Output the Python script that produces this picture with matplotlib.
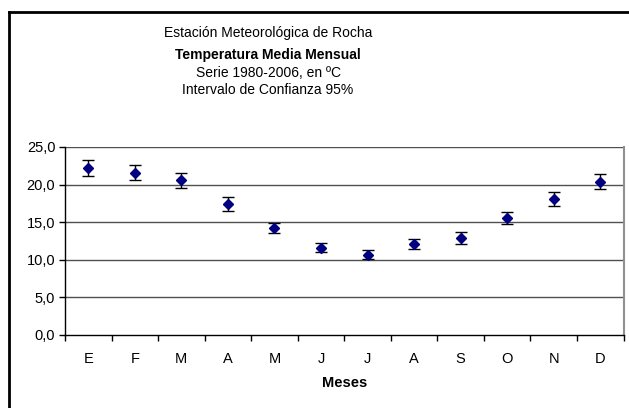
import matplotlib
matplotlib.use("Agg")
import matplotlib.pyplot as plt
from matplotlib.lines import Line2D
import numpy as np

months = ["E", "F", "M", "A", "M", "J", "J", "A", "S", "O", "N", "D"]
temp_mean = [22.2, 21.6, 20.6, 17.4, 14.2, 11.6, 10.7, 12.1, 12.9, 15.6, 18.1, 20.4]
ci95 = [1.1, 1.05, 1.0, 0.9, 0.7, 0.6, 0.55, 0.65, 0.75, 0.8, 0.95, 1.05]
yticks = [0, 5, 10, 15, 20, 25]

plt.rcParams['font.family'] = ['Liberation Sans', 'DejaVu Sans']

W, H = 629, 408
fig = plt.figure(figsize=(W / 100, H / 100), dpi=100)
fig.patch.set_facecolor("white")

# outer chart border (top and left visible, extends past image)
fig.add_artist(Line2D([8.5 / W, 8.5 / W], [0, 1 - 11.5 / H], transform=fig.transFigure,
                      color="black", lw=2.0))
fig.add_artist(Line2D([8.5 / W, 1.0], [1 - 11.5 / H, 1 - 11.5 / H], transform=fig.transFigure,
                      color="black", lw=2.0))

left, right = 65 / W, 623.5 / W
bottom, top = 1 - 335 / H, 1 - 147 / H
ax = fig.add_axes([left, bottom, right - left, top - bottom])

x = np.arange(len(months))
ax.set_xlim(-0.5, len(months) - 0.5)
ax.set_ylim(0, 25)

for v in yticks[1:]:
    ax.axhline(v, color="#505050", lw=1.0, zorder=1)

ax.errorbar(x, temp_mean, yerr=ci95, fmt="none", ecolor="black", elinewidth=1.0,
            capsize=4, capthick=1.0, zorder=3)
ax.plot(x, temp_mean, linestyle="none", marker="D", markersize=5.5,
        markerfacecolor="#000080", markeredgecolor="#000080", zorder=4)

ax.spines["top"].set_visible(False)
ax.spines["right"].set_color("#909090")
ax.spines["right"].set_linewidth(1.5)
ax.spines["left"].set_color("black")
ax.spines["bottom"].set_color("black")
ax.spines["left"].set_linewidth(1.0)
ax.spines["bottom"].set_linewidth(1.0)

ax.set_yticks(yticks)
ax.set_yticklabels([f"{v:.1f}".replace(".", ",") for v in yticks], fontsize=10.5)
ax.tick_params(axis="y", direction="out", length=4, width=1, pad=3)

ax.set_xticks(np.arange(-0.5, len(months), 1.0))
ax.set_xticklabels([])
ax.tick_params(axis="x", direction="out", length=4, width=1)
ax.set_xticks(x, minor=True)
ax.set_xticklabels(months, minor=True, fontsize=10.5)
ax.tick_params(axis="x", which="minor", length=0, pad=12)

ax.set_xlabel("Meses", fontsize=10.5, fontweight="bold", labelpad=7.5)

cx = 268 / W
fig.text(cx, 1 - 33 / H, "Estación Meteorológica de Rocha", ha="center", va="center", fontsize=10)
fig.text(cx, 1 - 55 / H, "Temperatura Media Mensual", ha="center", va="center", fontsize=10,
         fontweight="bold")
fig.text(cx, 1 - 73 / H, "Serie 1980-2006, en ºC", ha="center", va="center", fontsize=10)
fig.text(cx, 1 - 90 / H, "Intervalo de Confianza 95%", ha="center", va="center", fontsize=10)

fig.savefig("out.png", dpi=100)
